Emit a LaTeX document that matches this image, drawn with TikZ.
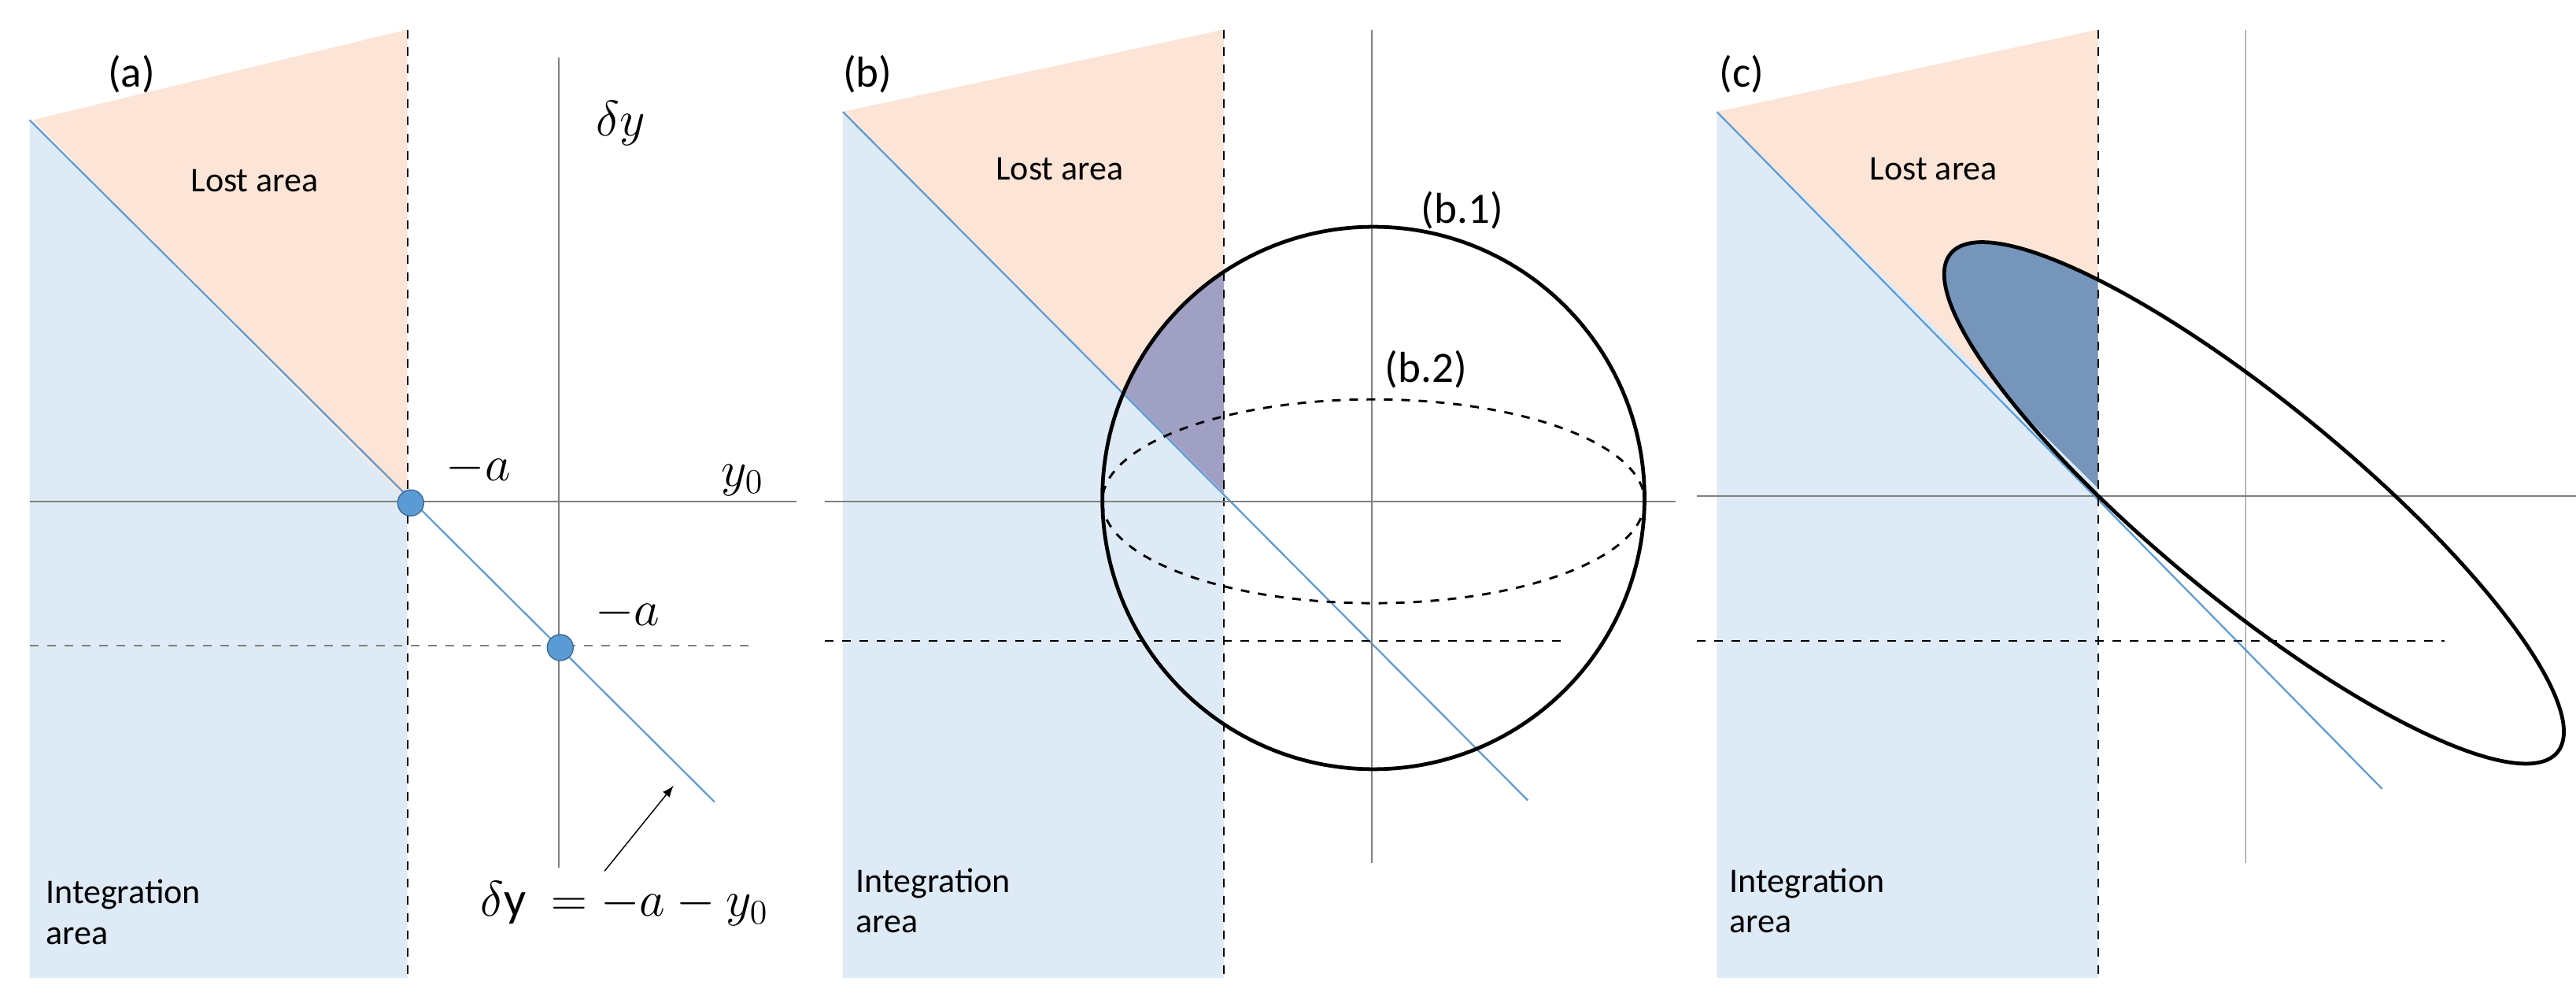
\documentclass[tikz,border=0pt]{standalone}
\usepackage{fontspec}
\setmainfont{Carlito}
\usetikzlibrary{positioning}
\definecolor{lostc}{HTML}{FCE4D6}
\definecolor{intc}{HTML}{DEEBF7}
\definecolor{linec}{HTML}{5B9BD5}
\definecolor{purc}{HTML}{A0A0C4}
\definecolor{darkc}{HTML}{7595BA}
\begin{document}
\begin{tikzpicture}[x=0.02cm,y=-0.02cm]
	\tikzset{axis/.style={gray,line width=0.5pt},
		guide/.style={black,dashed,line width=0.5pt},
		diag/.style={linec,line width=0.6pt},
		lbl/.style={font=\fontsize{12}{14}\selectfont,align=left},
		tag/.style={font=\fontsize{15}{17}\selectfont},
		dot/.style={circle,fill=linec,draw=linec!70!black,inner sep=0pt,minimum size=9pt}}
	\useasboundingbox (0,0) rectangle (1568,606);
	% panel (a)
	\fill [lostc] (20,73) -- (248,18) -- (248,305) -- cycle;
	\fill [intc] (18,73) -- (248,305) -- (248,595) -- (18,595) -- cycle;
	\draw [diag] (18,73) -- (435,488);
	\draw [guide] (248,18) -- (248,595);
	\draw [axis] (18,305) -- (485,305);
	\draw [axis] (340,35) -- (340,528);
	\draw [axis,dashed] (18,393) -- (460,393);
	\node [dot] (pa) at (250,306) {};
	\node [dot] (pb) at (341,394) {};
	\node [tag] (ta) at (80,45) {(a)};
	\node [lbl] (la) at (155,110) {Lost area};
	\node [lbl] (ia) at (75,555) {Integration\\area};
	\node [font=\fontsize{17}{19}\selectfont] (dy) at (378,75) {$\delta y$};
	\node [font=\fontsize{17}{19}\selectfont,right=4pt of pa,yshift=12pt] (ma) {$-a$};
	\node [font=\fontsize{17}{19}\selectfont] (y0) at (452,292) {$y_0$};
	\node [font=\fontsize{17}{19}\selectfont,right=4pt of pb,yshift=12pt] (mb) {$-a$};
	\node [font=\fontsize{17}{19}\selectfont] (eq) at (380,550) {$\delta\mathrm{y}\ =-a-y_0$};
	\coordinate (tip) at (410,478);
	\draw [-latex] (368,530) -- (tip);
	% panel (b)
	\fill [lostc] (513,68) -- (745,18) -- (745,300) -- cycle;
	\fill [intc] (513,68) -- (745,300) -- (745,595) -- (513,595) -- cycle;
	\begin{scope}
		\clip (836,303) circle (165);
		\fill [purc] (513,68) -- (745,18) -- (745,300) -- cycle;
	\end{scope}
	\draw [diag] (513,68) -- (930,487);
	\draw [guide] (745,18) -- (745,595);
	\draw [axis] (502,305) -- (1020,305);
	\draw [axis] (835,18) -- (835,525);
	\draw [guide] (502,390) -- (955,390);
	\draw [guide,line width=0.8pt] (836,305) ellipse (165 and 62);
	\draw [black,line width=1.3pt] (836,303) circle (165);
	\node [tag] (tb) at (528,45) {(b)};
	\node [lbl] (lb) at (645,103) {Lost area};
	\node [lbl] (ib) at (568,548) {Integration\\area};
	\node [tag] (b1) at (890,128) {(b.1)};
	\node [tag] (b2) at (868,225) {(b.2)};
	% panel (c)
	\fill [lostc] (1045,68) -- (1277,18) -- (1277,297) -- cycle;
	\fill [intc] (1045,68) -- (1277,297) -- (1277,595) -- (1045,595) -- cycle;
	\begin{scope}
		\clip [rotate around={-39.4:(1372,306)}] (1372,306) ellipse (239 and 60);
		\fill [darkc] (1045,68) -- (1277,18) -- (1277,297) -- cycle;
	\end{scope}
	\draw [diag] (1045,68) -- (1450,480);
	\draw [guide] (1277,18) -- (1277,595);
	\draw [axis] (1033,302) -- (1568,302);
	\draw [axis] (1367,18) -- (1367,525);
	\draw [guide] (1033,390) -- (1488,390);
	\draw [black,line width=1.3pt,rotate around={-39.4:(1372,306)}] (1372,306) ellipse (239 and 60);
	\node [tag] (tc) at (1060,45) {(c)};
	\node [lbl] (lc) at (1177,103) {Lost area};
	\node [lbl] (ic) at (1100,548) {Integration\\area};
\end{tikzpicture}
\end{document}
